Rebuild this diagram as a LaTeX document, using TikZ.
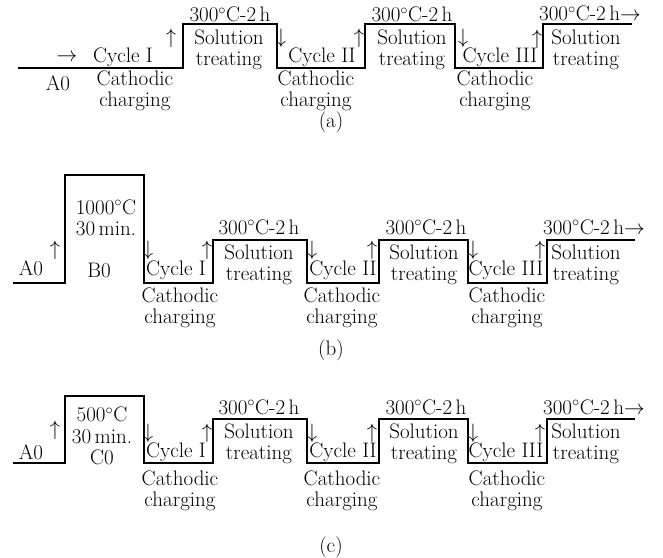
\documentclass[tikz,border=0pt]{standalone}
\usepackage{amsmath, amssymb}
\usepackage{fontspec}
\usetikzlibrary{positioning}

\begin{document}
\begin{tikzpicture}[
    x=1pt, y=-1pt,
    % Estilo para la linea escalonada del tratamiento
    profile/.style={
        line width=1.2pt,
        line join=miter
    },
    % Estilo para los textos de las etapas
    stagelbl/.style={
        inner sep=0pt,
        align=center,
        font=\fontsize{21}{21.5}\selectfont
    },
    % Estilo para las flechas de texto (subida / bajada)
    steparrow/.style={
        inner sep=0pt,
        font=\fontsize{20}{21}\selectfont
    }
]
    \useasboundingbox (0,0) rectangle (663,557);

    % ==========================================
    % PANEL (a)
    % ==========================================
    \draw[profile] (18,68) -- (183,68) -- (183,24) -- (277,24) -- (277,68)
        -- (365,68) -- (365,24) -- (455,24) -- (455,68)
        -- (543,68) -- (543,24) -- (632,24);

    \node[stagelbl] (a0) at (58,83) {A0};
    \node[steparrow] (ain) at (67,58) {$\rightarrow$};
    \node[stagelbl] (acyc1) at (123,57) {Cycle I};
    \node[stagelbl] (acat1) at (135,91) {Cathodic\\charging};
    \node[steparrow] (aup1) at (171,38) {$\uparrow$};
    \node[stagelbl] (asol1) at (229,50) {Solution\\treating};
    \node[stagelbl] (atemp1) at (230,14.5) {300$^\circ$C-2\,h};
    \node[steparrow] (adown1) at (281,38) {$\downarrow$};
    \node[stagelbl] (acyc2) at (322,57) {Cycle II};
    \node[stagelbl] (acat2) at (316,91) {Cathodic\\charging};
    \node[steparrow] (aup2) at (359,38) {$\uparrow$};
    \node[stagelbl] (asol2) at (412,50) {Solution\\treating};
    \node[stagelbl] (atemp2) at (412,14.5) {300$^\circ$C-2\,h};
    \node[steparrow] (adown2) at (463,38) {$\downarrow$};
    \node[stagelbl] (acyc3) at (500,57) {Cycle III};
    \node[stagelbl] (acat3) at (495,91) {Cathodic\\charging};
    \node[steparrow] (aup3) at (537,39) {$\uparrow$};
    \node[stagelbl] (asol3) at (586,50) {Solution\\treating};
    \node[stagelbl, anchor=west] (atemp3) at (539,13.5) {300$^\circ$C-2\,h$\rightarrow$};
    \node[stagelbl] (acap) at (331,122) {(a)};

    % ==========================================
    % PANEL (b)
    % ==========================================
    \draw[profile] (13,283) -- (65,283) -- (65,175) -- (144,175) -- (144,283)
        -- (213,283) -- (213,240) -- (307,240) -- (307,283)
        -- (379,283) -- (379,240) -- (468,240) -- (468,283)
        -- (547,283) -- (547,240) -- (635,240);

    \node[stagelbl] (b0a) at (31,268) {A0};
    \node[steparrow] (bup0) at (55,250) {$\uparrow$};
    \node[stagelbl] (bheat) at (106,218) {1000$^\circ$C\\30\,min.};
    \node[stagelbl] (b0) at (99,270) {B0};
    \node[steparrow] (bdown0) at (148,250) {$\downarrow$};
    \node[stagelbl] (bcyc1) at (176,270) {Cycle I};
    \node[stagelbl] (bcat1) at (180,308) {Cathodic\\charging};
    \node[steparrow] (bup1) at (207,250) {$\uparrow$};
    \node[stagelbl] (bsol1) at (259,265) {Solution\\treating};
    \node[stagelbl] (btemp1) at (259,227) {300$^\circ$C-2\,h};
    \node[steparrow] (bdown1) at (312,250) {$\downarrow$};
    \node[stagelbl] (bcyc2) at (343,270) {Cycle II};
    \node[stagelbl] (bcat2) at (342,308) {Cathodic\\charging};
    \node[steparrow] (bup2) at (372,250) {$\uparrow$};
    \node[stagelbl] (bsol2) at (424,265) {Solution\\treating};
    \node[stagelbl] (btemp2) at (426,227) {300$^\circ$C-2\,h};
    \node[steparrow] (bdown2) at (473,250) {$\downarrow$};
    \node[stagelbl] (bcyc3) at (506,270) {Cycle III};
    \node[stagelbl] (bcat3) at (507,308) {Cathodic\\charging};
    \node[steparrow] (bup3) at (540,250) {$\uparrow$};
    \node[stagelbl] (bsol3) at (586,265) {Solution\\treating};
    \node[stagelbl, anchor=west] (btemp3) at (543,227) {300$^\circ$C-2\,h$\rightarrow$};
    \node[stagelbl] (bcap) at (331,350) {(b)};

    % ==========================================
    % PANEL (c)
    % ==========================================
    \draw[profile] (13,463) -- (65,463) -- (65,396) -- (144,396) -- (144,463)
        -- (213,463) -- (213,419) -- (307,419) -- (307,463)
        -- (379,463) -- (379,419) -- (468,419) -- (468,463)
        -- (547,463) -- (547,419) -- (635,419);

    \node[stagelbl] (c0a) at (31,452) {A0};
    \node[steparrow] (cup0) at (55,430) {$\uparrow$};
    \node[stagelbl] (cheat) at (102,436) {500$^\circ$C\\30\,min.\\C0};
    \node[steparrow] (cdown0) at (148,433) {$\downarrow$};
    \node[stagelbl] (ccyc1) at (176,452) {Cycle I};
    \node[stagelbl] (ccat1) at (180,491) {Cathodic\\charging};
    \node[steparrow] (cup1) at (207,433) {$\uparrow$};
    \node[stagelbl] (csol1) at (259,444) {Solution\\treating};
    \node[stagelbl] (ctemp1) at (259,407) {300$^\circ$C-2\,h};
    \node[steparrow] (cdown1) at (312,433) {$\downarrow$};
    \node[stagelbl] (ccyc2) at (343,452) {Cycle II};
    \node[stagelbl] (ccat2) at (342,491) {Cathodic\\charging};
    \node[steparrow] (cup2) at (372,433) {$\uparrow$};
    \node[stagelbl] (csol2) at (424,444) {Solution\\treating};
    \node[stagelbl] (ctemp2) at (426,407) {300$^\circ$C-2\,h};
    \node[steparrow] (cdown2) at (473,433) {$\downarrow$};
    \node[stagelbl] (ccyc3) at (506,452) {Cycle III};
    \node[stagelbl] (ccat3) at (507,491) {Cathodic\\charging};
    \node[steparrow] (cup3) at (540,433) {$\uparrow$};
    \node[stagelbl] (csol3) at (586,444) {Solution\\treating};
    \node[stagelbl, anchor=west] (ctemp3) at (543,407) {300$^\circ$C-2\,h$\rightarrow$};
    \node[stagelbl] (ccap) at (331,547) {(c)};

\end{tikzpicture}
\end{document}
